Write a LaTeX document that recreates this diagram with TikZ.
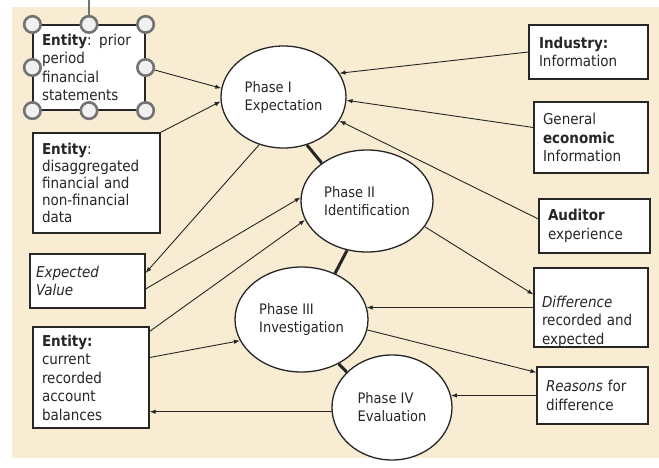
\documentclass[tikz,border=0pt]{standalone}
\usepackage{fontspec}
\setmainfont{DejaVu Sans Condensed}
\usetikzlibrary{shapes.geometric,arrows.meta}
\definecolor{paper}{HTML}{F8ECD2}
\definecolor{ink}{HTML}{262626}
\definecolor{handle}{HTML}{737373}
\begin{document}
\begin{tikzpicture}[x=1pt,y=-1pt,
  box/.style={draw=ink, line width=1.2pt, fill=white, align=left, inner xsep=9pt, inner ysep=0pt,
              font=\fontsize{15}{18.5}\selectfont, text=ink},
  phase/.style={ellipse, draw=ink, line width=1.3pt, fill=white, align=left, inner sep=0pt,
              font=\fontsize{14.5}{18}\selectfont, text=ink},
  flow/.style={draw=ink, line width=0.9pt, -{Latex[length=6pt,width=4.5pt]}},
  link/.style={draw=ink, line width=3pt},
  grip/.style={circle, draw=handle, line width=2.6pt, fill=white!94!black, minimum size=16.5pt, inner sep=0pt}]

% page and paper
\useasboundingbox (0,0) rectangle (659,467);
\fill[paper] (12,7) rectangle (659,458);

% the four phases
\node[phase, minimum width=125pt, minimum height=102pt] (p1) at (283.5,97)  {Phase I\\Expectation};
\node[phase, minimum width=132pt, minimum height=102pt] (p2) at (367,201)   {Phase II\\Identification};
\node[phase, minimum width=133pt, minimum height=105pt] (p3) at (301.5,319.5) {Phase III\\Investigation};
\node[phase, minimum width=120pt, minimum height=105pt] (p4) at (392,407.5) {Phase IV\\Evaluation};

% links between consecutive phases
\draw[link] (p1.296) -- (p2.140);
\draw[link] (p2.248) -- (p3.54);
\draw[link] (p3.310) -- (p4.142);

% information sources and results, left side
\node[box, text width=94pt,  minimum height=85pt]  (b1) at (89,67.5)   {\textbf{Entity}: prior\\period\\financial\\statements};
\node[box, text width=109pt, minimum height=100pt, font=\fontsize{15}{17}\selectfont] (b2) at (96.5,183)
  {\textbf{Entity}:\\disaggregated\\financial and\\non-financial\\data};
\node[box, inner xsep=6pt, text width=103pt, minimum height=54pt] (b3) at (87.5,281) {\textit{Expected}\\\textit{Value}};
\node[box, text width=98pt,  minimum height=101pt] (b4) at (91,377.5)  {\textbf{Entity:}\\current\\recorded\\account\\balances};

% right side
\node[box, inner xsep=10pt, text width=99pt, minimum height=54pt] (b5) at (588.5,52) {\textbf{Industry:}\\Information};
\node[box, text width=96pt,  minimum height=71pt]  (b6) at (591,137.5) {General\\\textbf{economic}\\Information};
\node[box, text width=93pt,  minimum height=54pt]  (b7) at (594.5,226) {\textbf{Auditor}\\experience};
\node[box, inner xsep=8pt, text width=98pt, minimum height=79pt, text depth=12pt] (b8) at (591,307.5)
  {\textit{Difference}\\recorded and\\expected};
\node[box, inner xsep=9pt, text width=93pt, minimum height=57pt] (b9) at (592.5,395.5) {\textit{Reasons} for\\difference};

% flows
\draw[flow] (b1.east) -- (p1.172);
\draw[flow] (b2.north east) -- (p1.184);
\draw[flow] (p1.243) -- ([yshift=8pt]b3.east);
\draw[flow] ([yshift=-8pt]b3.east) -- (p2.177);
\draw[flow] ([yshift=-5pt]b4.north east) -- (p2.197);
\draw[flow] ([yshift=20pt]b4.east) -- (p3.199);
\draw[flow] (p4.184) -- (b4.east |- p4.184);
\draw[flow] (b5.west) -- (p1.23);
\draw[flow] ([yshift=10pt]b6.west) -- (p1.357);
\draw[flow] ([yshift=7pt]b7.west) -- (p1.337);
\draw[flow] (p2.336) -- ([yshift=13pt]b8.west);
\draw[flow] (b8.west) -- (p3.11 |- b8.west);
\draw[flow] (p3.351) -- ([yshift=-6pt]b9.north west);
\draw[flow] (b9.west) -- (p4.12 |- b9.west);

% selection frame on the first box
\coordinate (rot) at (89,0);
\draw[handle, line width=1.2pt] (b1.north) -- (rot);
\foreach \a in {north west,north,north east,west,east,south west,south,south east}
  \node[grip] at (b1.\a) {};
\end{tikzpicture}
\end{document}
